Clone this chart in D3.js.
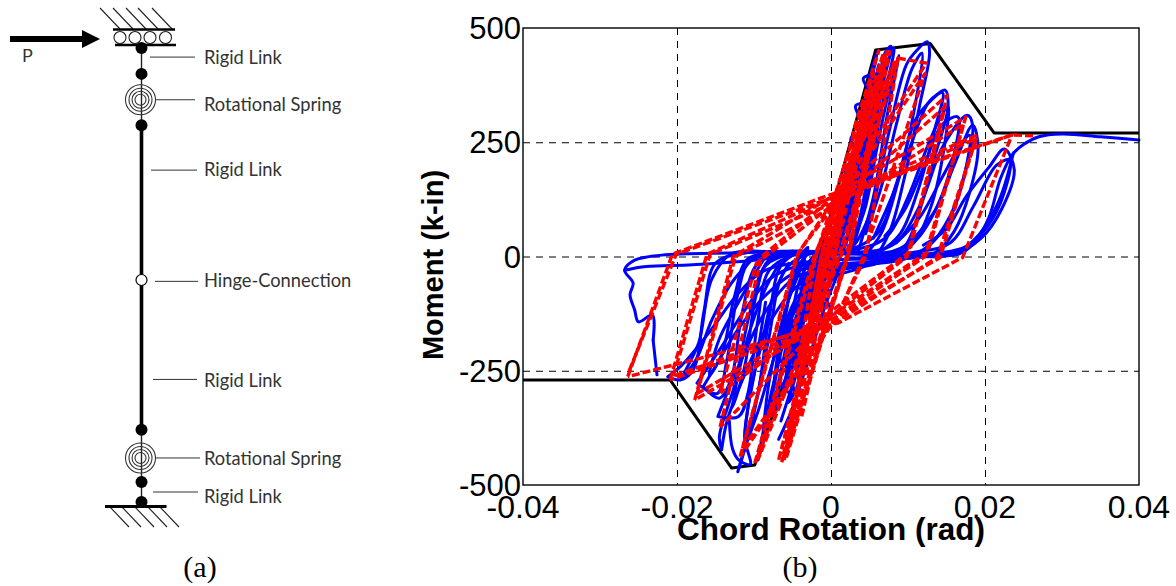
<!DOCTYPE html>
<html>
<head>
<meta charset="utf-8">
<script src="https://cdn.jsdelivr.net/npm/d3@7"></script>
<style>
  html, body { margin: 0; padding: 0; background: #fff; }
  svg { display: block; }
</style>
</head>
<body>
<svg id="fig" width="1176" height="586"></svg>
<script>
var xTicks = [-0.04, -0.02, 0, 0.02, 0.04];
var xTickLabels = ["-0.04", "-0.02", "0", "0.02", "0.04"];
var yTicks = [-500, -250, 0, 250, 500];

// backbone curve
var backbone = [[-0.04, -270], [-0.0209, -270], [-0.0129, -463], [-0.0099, -456], [-0.0058, -262], [0.0058, 452],
    [0.0129, 466], [0.0212, 270], [0.04, 270]];

// test
var blueLoops = [
    [[-0.003, -130], [-0.0015, -60], [0, 10], [0.002, 110], [0.0035, 210], [0.002, 120], [0.0005, 30], [-0.001, -20], [-0.0025, -75], [-0.0038, -130], [-0.002, -60], [0, 15]],
    [[-0.0045, -120], [-0.003, -50], [-0.001, 10], [0.001, 70], [0.003, 170], [0.0045, 290], [0.003, 190], [0.0015, 70], [0, -5], [-0.0015, -45], [-0.003, -100], [-0.0048, -190], [-0.003, -90], [-0.001, 0]],
    [[-0.0057, -240], [-0.004, -120], [-0.0025, -30], [-0.001, 8], [0.001, 60], [0.003, 190], [0.005, 340], [0.0055, 410], [0.004, 280], [0.0025, 130], [0.001, 20], [-0.001, -30], [-0.003, -80], [-0.005, -190], [-0.0062, -300], [-0.0045, -170], [-0.003, -60]],
    [[-0.0075, -330], [-0.0055, -170], [-0.004, -50], [-0.002, 5], [0.001, 30], [0.003, 150], [0.005, 310], [0.0062, 420], [0.0045, 280], [0.003, 130], [0.002, 30], [0, -30], [-0.002, -60], [-0.004, -110], [-0.006, -220], [-0.0072, -340]],
    [[-0.0092, -430], [-0.007, -250], [-0.005, -60], [-0.003, 5], [0.001, 15], [0.0035, 120], [0.0055, 280], [0.0072, 420], [0.0082, 455], [0.0065, 320], [0.0045, 130], [0.003, 30], [0.001, -25], [-0.002, -55], [-0.005, -130], [-0.0075, -280], [-0.0095, -445]],
    [[-0.0121, -471], [-0.0105, -380], [-0.0082, -190], [-0.006, -30], [-0.003, 5], [0.002, 10], [0.005, 90], [0.0075, 270], [0.0098, 420], [0.0112, 452], [0.0125, 470], [0.0128, 445], [0.0115, 330], [0.0095, 170], [0.0075, 50], [0.005, -15], [0.001, -40], [-0.003, -70], [-0.0065, -180], [-0.0095, -340], [-0.0114, -430], [-0.0121, -471]],
    [[-0.0142, -423], [-0.0145, -395], [-0.0125, -280], [-0.0105, -120], [-0.0085, -20], [-0.005, 5], [0.001, 8], [0.006, 50], [0.0085, 160], [0.011, 300], [0.0132, 345], [0.0148, 364], [0.0152, 328], [0.0135, 220], [0.0115, 100], [0.0095, 20], [0.006, -15], [0.001, -30], [-0.004, -60], [-0.008, -145], [-0.0115, -270], [-0.0135, -360], [-0.0142, -423]],
    [[-0.0147, -350], [-0.012, -350], [-0.0108, -300], [-0.0095, -140], [-0.008, -30], [-0.004, 8], [0.002, 12], [0.007, 40], [0.01, 130], [0.0125, 240], [0.0138, 290], [0.0152, 328], [0.0148, 250], [0.013, 110], [0.0105, 25], [0.007, -10], [0.001, -25], [-0.0045, -45], [-0.0085, -120], [-0.012, -240], [-0.0147, -350]],
    [[-0.0166, -285], [-0.0145, -310], [-0.013, -270], [-0.0115, -120], [-0.0095, -15], [-0.006, 5], [0.002, 8], [0.008, 25], [0.0115, 110], [0.0145, 240], [0.0177, 309], [0.0184, 287], [0.0175, 190], [0.0155, 90], [0.0125, 20], [0.009, -8], [0.002, -20], [-0.004, -30], [-0.0085, -85], [-0.0125, -170], [-0.015, -240], [-0.0166, -285]],
    [[-0.0174, -277], [-0.0148, -300], [-0.0135, -225], [-0.0122, -90], [-0.0105, -10], [-0.006, 6], [0.003, 6], [0.009, 18], [0.0135, 100], [0.016, 200], [0.0184, 287], [0.0191, 240], [0.018, 140], [0.016, 55], [0.0135, 8], [0.009, -6], [0.002, -15], [-0.0045, -22], [-0.008, -50], [-0.0115, -125], [-0.0145, -205], [-0.0174, -277]],
    [[-0.0212, -263], [-0.0195, -270], [-0.0178, -245], [-0.0165, -120], [-0.015, -15], [-0.011, 8], [-0.004, 10], [0.004, 6], [0.011, 10], [0.0155, 30], [0.0185, 110], [0.0215, 200], [0.0232, 211], [0.0225, 140], [0.0205, 70], [0.0175, 20], [0.0135, 2], [0.006, -5], [-0.002, -10], [-0.0085, -30], [-0.012, -80], [-0.016, -170], [-0.0195, -240], [-0.0212, -263]],
    [[-0.0231, -183], [-0.0232, -128], [-0.025, -143], [-0.0255, -117], [-0.0261, -84], [-0.0257, -58], [-0.0268, -30], [-0.0255, -8], [-0.022, 3], [-0.012, 8], [-0.004, 12], [0.004, 5], [0.012, 4], [0.0165, 5], [0.0185, 28], [0.0205, 85], [0.022, 170], [0.0235, 222], [0.025, 245], [0.027, 262], [0.03, 268], [0.035, 262], [0.04, 255]],
    [[-0.0268, -30], [-0.024, -22], [-0.018, -18], [-0.01, -8], [-0.004, 5], [0.002, 8]],
    [[-0.0226, -259], [-0.0231, -183]],
    [[0.0237, 227], [0.022, 130], [0.02, 65], [0.0175, 22], [0.014, 8], [0.008, 2], [0.002, -5]],
    // repeat cycles, these fill the middle of the plot
    [[-0.0025, -110], [-0.0005, -10], [0.0015, 90], [0.003, 190], [0.0015, 100], [0, 5], [-0.002, -70], [-0.0035, -140], [-0.0015, -40], [0.001, 60]],
    [[-0.004, -70], [-0.0025, -90], [-0.0038, -150], [-0.0025, -60], [-0.001, -5], [-0.002, -45], [-0.0042, -130], [-0.003, -35], [-0.0005, 5], [-0.0025, -105], [-0.004, -100], [-0.0015, -20], [-0.0035, -80]],
    [[-0.0055, -60], [-0.0035, -5], [-0.004, -90], [-0.0052, -230], [-0.0038, -130], [-0.0025, -20], [-0.0045, -140], [-0.0058, -280], [-0.0042, -190], [-0.003, -70], [-0.0048, -100], [-0.0065, -230], [-0.005, -240], [-0.0035, -170]],
    [[-0.0065, -360], [-0.005, -280], [-0.0035, -200], [-0.002, -130], [-0.0005, -70], [0.001, -30], [-0.0008, -110], [-0.003, -230], [-0.0052, -340], [-0.0068, -400]],
    [[-0.009, -400], [-0.0078, -320], [-0.0068, -200], [-0.0055, -90], [-0.0045, -15], [-0.003, 20], [-0.006, -120], [-0.008, -270], [-0.0088, -380]],
    [[0.0005, 60], [0.002, 160], [0.0035, 270], [0.005, 390], [0.006, 450], [0.0045, 320], [0.003, 180], [0.0015, 60]],
    [[0.0015, 50], [0.003, 110], [0.0045, 240], [0.006, 360], [0.007, 445], [0.0078, 460], [0.0065, 360], [0.005, 200], [0.0035, 70], [0.002, 10]],
    [[0.003, 40], [0.0045, 110], [0.006, 240], [0.0075, 360], [0.0088, 440], [0.0072, 300], [0.0055, 130], [0.0035, 10]],
    [[0.0045, 50], [0.0065, 150], [0.0085, 290], [0.0105, 410], [0.0118, 445], [0.0108, 320], [0.0088, 170], [0.0065, 50], [0.004, -5]],
    [[0.0055, 40], [0.008, 135], [0.0105, 250], [0.0128, 340], [0.0145, 358], [0.0135, 280], [0.0112, 140], [0.009, 50], [0.006, 5]],
    [[0.007, 45], [0.0095, 100], [0.012, 195], [0.0145, 290], [0.0165, 305], [0.016, 225], [0.0138, 110], [0.011, 35], [0.007, 0]],
    [[0.0085, 30], [0.0115, 85], [0.0145, 175], [0.0165, 235], [0.018, 265], [0.0172, 170], [0.015, 70], [0.012, 15], [0.008, -5]],
    [[0.012, 25], [0.015, 60], [0.0175, 130], [0.0205, 195], [0.0225, 235], [0.0238, 190], [0.0222, 105], [0.0195, 40], [0.016, 5], [0.011, 0]],
    [[-0.0085, 0], [-0.0105, -55], [-0.0125, -115], [-0.0145, -180], [-0.0158, -260], [-0.0142, -215], [-0.0125, -85], [-0.0108, -5], [-0.007, 8]],
    [[-0.0065, -10], [-0.0085, -70], [-0.0105, -160], [-0.012, -255], [-0.0128, -330], [-0.0112, -240], [-0.0098, -90], [-0.0082, -10], [-0.005, 12]],
    [[-0.0055, -15], [-0.0075, -85], [-0.009, -190], [-0.0105, -300], [-0.0112, -400], [-0.0095, -300], [-0.008, -130], [-0.0065, -20], [-0.004, 12]],
    [[-0.01, -2], [-0.013, -60], [-0.0155, -140], [-0.0175, -225], [-0.0195, -270], [-0.0172, -190], [-0.0155, -50], [-0.013, 5], [-0.008, 10]],
    [[-0.0132, -360], [-0.0128, -420], [-0.012, -445], [-0.0105, -455], [-0.0112, -395], [-0.0098, -240], [-0.0085, -100]],
    // the two solid patches, lower left of the origin and just right of it
    [[-0.0068, -250], [-0.0052, -255], [-0.0064, -285], [-0.0048, -300], [-0.006, -220], [-0.0044, -230], [-0.0056, -320], [-0.0042, -270], [-0.0058, -190], [-0.0042, -170], [-0.0054, -130]],
    [[-0.0044, -40], [-0.0006, -45], [-0.0038, -70], [-0.0002, -75], [-0.0034, -100], [-0.0005, -105], [-0.003, -125], [0, -125], [-0.0028, -20], [0.0004, -20]],
    [[0.001, 120], [0.0032, 130], [0.0018, 190], [0.004, 200], [0.0026, 260], [0.0048, 270], [0.0032, 330], [0.0056, 340], [0.0042, 390], [0.0066, 400]]
];

// model, multi-linear with pinching
var redLoops = [
    [[-0.0264, -263], [-0.0206, 5], [-0.001, 130], [0.0235, 266], [0.0171, -2], [0.001, -145], [-0.0264, -263]],
    [[-0.0262, -250], [-0.0201, 5], [-0.001, 122], [0.0235, 266], [0.0265, 264]],
    [[-0.0209, -270], [-0.0161, 5], [0, 128], [0.019, 266], [0.0138, -2], [0, -150], [-0.0209, -270]],
    [[-0.0205, -262], [-0.0157, 5], [0.0005, 118], [0.0188, 258], [0.0142, -2], [0.0005, -135], [-0.0205, -262]],
    [[-0.0177, -314], [-0.0127, 0], [-0.001, 120], [0.0175, 305], [0.0122, 0], [0, -140], [-0.0177, -314]],
    [[-0.0174, -300], [-0.0124, 0], [0, 105], [0.0172, 290], [0.0126, 10], [0.0005, -125], [-0.0174, -300]],
    [[-0.0144, -373], [-0.009, 0], [0, 125], [0.0151, 353], [0.0099, 0], [0, -130], [-0.0144, -373]],
    [[-0.0144, -299], [-0.0097, -15], [0, 110], [0.0148, 327], [0.0102, 10], [0, -120], [-0.0144, -299]],
    [[-0.0118, -438], [-0.0045, 0], [0, 115], [0.0124, 423], [0.0087, 434], [0.0045, 0], [0.0005, -140], [-0.0118, -438]],
    [[-0.0115, -420], [-0.0042, 10], [0.001, 125], [0.0122, 400], [0.0068, 130], [0.0041, -5], [0.001, -125], [-0.0115, -420]],
    [[-0.0099, -452], [-0.0022, 0], [0.0087, 434], [0.001, 0], [-0.0099, -452]],
    [[-0.0095, -445], [-0.0018, 10], [0.0082, 425], [0.0015, 10], [-0.0095, -445]],
    [[-0.0064, -450], [0.002, 0], [0.0073, 452], [-0.0005, 0], [-0.0064, -450]],
    [[-0.0061, -445], [0.0024, 10], [0.0076, 448], [-0.0008, 8], [-0.0061, -445]],
    [[-0.0058, -440], [0.0025, 20], [0.0068, 445], [-0.0012, 10], [-0.0058, -440]],
    [[-0.0045, -260], [0, 40], [0.0055, 400], [-0.002, 0], [-0.0045, -260]],
    [[-0.0035, -190], [0.001, 80], [0.0045, 320], [-0.001, 20], [-0.0035, -190]],
    [[-0.0068, -445], [0.0005, 0], [0.0058, 380], [0.0008, 60], [-0.0068, -445]],
    // lines that hug the elastic branch
    [[-0.0048, -330], [-0.002, -130], [0.0005, 130], [0.0062, 450], [0.0032, 290], [0.0008, 120], [-0.0018, -70], [-0.0042, -300]],
    [[-0.0052, -400], [-0.0015, -130], [0.0012, 100], [0.0052, 370], [0.0028, 230], [0.0002, 60], [-0.0025, -180], [-0.0056, -420]],
    [[-0.0038, -350], [-0.0008, -130], [0.0018, 130], [0.0046, 300], [0.0022, 150], [-0.0002, -30], [-0.003, -260]]
];

// left panel, positions along the column are in percent of its height
var rigidNodes = [100, 94.3, 83, 15.9, 4.4, 0];
var hingeNode = [48.9];
var springNodes = [88.6, 9.7];
var springRadii = [15, 11.5, 8.5, 5.5];
var columnLabels = [
    { text: "Rigid Link", at: 98, leader: [150, 195], dy: 1 },
    { text: "Rotational Spring", at: 88.6, leader: [156, 195], dy: 5 },
    { text: "Rigid Link", at: 73.1, leader: [151, 197] },
    { text: "Hinge-Connection", at: 48.6, leader: [155, 198] },
    { text: "Rigid Link", at: 27, leader: [153, 197], dy: 2 },
    { text: "Rotational Spring", at: 9.7, leader: [155, 200], dy: 1 },
    { text: "Rigid Link", at: 2.2, leader: [153, 198], dy: 5 }
];

var svg = d3.select("#fig");

// ---- (a) column model
var colX = 141.5;
var colY = d3.scaleLinear().domain([0, 100]).range([502, 48]);
var left = svg.append("g");

function hatch(g, x0s, y0, y1, run) {
    x0s.forEach(function (x0) {
        g.append("line").attr("x1", x0).attr("y1", y0).attr("x2", x0 + run).attr("y2", y1)
            .attr("stroke", "#222").attr("stroke-width", 1.1);
    });
}

// thin links then the thick middle part
left.append("line").attr("x1", colX).attr("x2", colX).attr("y1", colY(100)).attr("y2", colY(0))
    .attr("stroke", "#222").attr("stroke-width", 1.4);
left.append("line").attr("x1", colX).attr("x2", colX).attr("y1", colY(83)).attr("y2", colY(15.9))
    .attr("stroke", "#000").attr("stroke-width", 3.6);

// top support
hatch(left, [100, 113, 126, 138, 152], 8, 29, 20);
left.append("line").attr("x1", 113).attr("x2", 175).attr("y1", 29.5).attr("y2", 29.5).attr("stroke", "#000").attr("stroke-width", 2.6);
left.append("line").attr("x1", 115).attr("x2", 176).attr("y1", 45).attr("y2", 45).attr("stroke", "#000").attr("stroke-width", 2.6);
left.selectAll(".roller").data([120, 135, 150, 165.5]).enter().append("circle")
    .attr("cx", function (d) { return d; }).attr("cy", 37.5).attr("r", 6)
    .attr("fill", "#fff").attr("stroke", "#222").attr("stroke-width", 1.1);

// load arrow
left.append("path").attr("d", "M10,36 L82,36 L82,30 L100,39 L82,48 L82,42 L10,42 Z").attr("fill", "#000");
left.append("text").attr("x", 22).attr("y", 62).text("P")
    .style("font-family", "Lato, sans-serif").style("font-size", "18px").attr("fill", "#333");

// bottom support
hatch(left, [110, 122, 135, 148, 160], 507, 527, 19);
left.append("line").attr("x1", 105).attr("x2", 166.5).attr("y1", 506.5).attr("y2", 506.5).attr("stroke", "#000").attr("stroke-width", 3);

springNodes.forEach(function (n) {
    left.selectAll(null).data(springRadii).enter().append("circle")
        .attr("cx", colX - 1).attr("cy", colY(n)).attr("r", function (d) { return d; })
        .attr("fill", "none").attr("stroke", "#333").attr("stroke-width", 1.1);
});
left.selectAll(".node").data(rigidNodes).enter().append("circle")
    .attr("cx", colX).attr("cy", function (d) { return colY(d); }).attr("r", 6).attr("fill", "#000");
left.selectAll(".hinge").data(hingeNode).enter().append("circle")
    .attr("cx", colX).attr("cy", function (d) { return colY(d); }).attr("r", 5.5)
    .attr("fill", "#fff").attr("stroke", "#000").attr("stroke-width", 1.2);

columnLabels.forEach(function (d) {
    var y = colY(d.at);
    left.append("line").attr("x1", d.leader[0]).attr("x2", d.leader[1]).attr("y1", y).attr("y2", y)
        .attr("stroke", "#333").attr("stroke-width", 1);
    left.append("text").attr("x", 204).attr("y", y + (d.dy || 0) + 6).text(d.text)
        .style("font-family", "Lato, sans-serif").style("font-size", "18.3px").attr("fill", "#333");
});

// ---- (b) hysteresis plot
var x = d3.scaleLinear().domain([-0.04, 0.04]).range([523, 1139]);
var y = d3.scaleLinear().domain([-500, 500]).range([485, 28]);
var line = d3.line().x(function (d) { return x(d[0]); }).y(function (d) { return y(d[1]); });
var smooth = d3.line().x(function (d) { return x(d[0]); }).y(function (d) { return y(d[1]); }).curve(d3.curveCatmullRom.alpha(0.5));
var plot = svg.append("g");

var xGrid = d3.axisBottom(x).tickValues(xTicks.slice(1, 4)).tickSize(y(-500) - y(500)).tickFormat("");
var yGrid = d3.axisLeft(y).tickValues(yTicks.slice(1, 4)).tickSize(x(-0.04) - x(0.04)).tickFormat("");
plot.append("g").attr("class", "grid").attr("transform", "translate(0," + y(500) + ")").call(xGrid);
plot.append("g").attr("class", "grid").attr("transform", "translate(" + x(-0.04) + ",0)").call(yGrid);
plot.selectAll(".grid .domain").remove();
plot.selectAll(".grid line").attr("stroke", "#000").attr("stroke-width", 1).attr("stroke-dasharray", "7,6");

plot.append("path").datum(backbone).attr("d", line).attr("fill", "none")
    .attr("stroke", "#000").attr("stroke-width", 3).attr("stroke-linejoin", "round");

plot.selectAll(".blue").data(blueLoops).enter().append("path")
    .attr("d", smooth).attr("fill", "none").attr("stroke", "#0000ff")
    .attr("stroke-width", 3).attr("stroke-linejoin", "round").attr("stroke-linecap", "round");

plot.selectAll(".red").data(redLoops).enter().append("path")
    .attr("d", line).attr("fill", "none").attr("stroke", "#ff0000")
    .attr("stroke-width", 3.4).attr("stroke-dasharray", "8,3").attr("stroke-linejoin", "round");

// frame
plot.append("rect").attr("x", x(-0.04)).attr("y", y(500)).attr("width", x(0.04) - x(-0.04)).attr("height", y(-500) - y(500))
    .attr("fill", "none").attr("stroke", "#000").attr("stroke-width", 1.4);

plot.selectAll(".xlab").data(xTicks).enter().append("text")
    .attr("x", function (d) { return x(d); }).attr("y", 518).attr("text-anchor", "middle")
    .text(function (d, i) { return xTickLabels[i]; })
    .style("font-family", "'Liberation Sans', Arial, sans-serif").style("font-size", "32px");
plot.selectAll(".ylab").data(yTicks).enter().append("text")
    .attr("x", 521).attr("y", function (d) { return y(d) + 11; }).attr("text-anchor", "end")
    .text(function (d) { return d; })
    .style("font-family", "'Liberation Sans', Arial, sans-serif").style("font-size", "31px");

plot.append("text").attr("x", 831).attr("y", 540).attr("text-anchor", "middle").text("Chord Rotation (rad)")
    .style("font-family", "'Liberation Sans', Arial, sans-serif").style("font-size", "31.5px").style("font-weight", "bold");
plot.append("text").attr("transform", "translate(443,265) rotate(-90)").attr("text-anchor", "middle").text("Moment (k-in)")
    .style("font-family", "'Liberation Sans', Arial, sans-serif").style("font-size", "29px").style("font-weight", "bold");

// captions
svg.selectAll(".cap").data([{ t: "(a)", x: 200 }, { t: "(b)", x: 800 }]).enter().append("text")
    .attr("x", function (d) { return d.x; }).attr("y", 577).attr("text-anchor", "middle")
    .text(function (d) { return d.t; })
    .style("font-family", "'Liberation Serif', 'Times New Roman', serif").style("font-size", "30px");
</script>
</body>
</html>
